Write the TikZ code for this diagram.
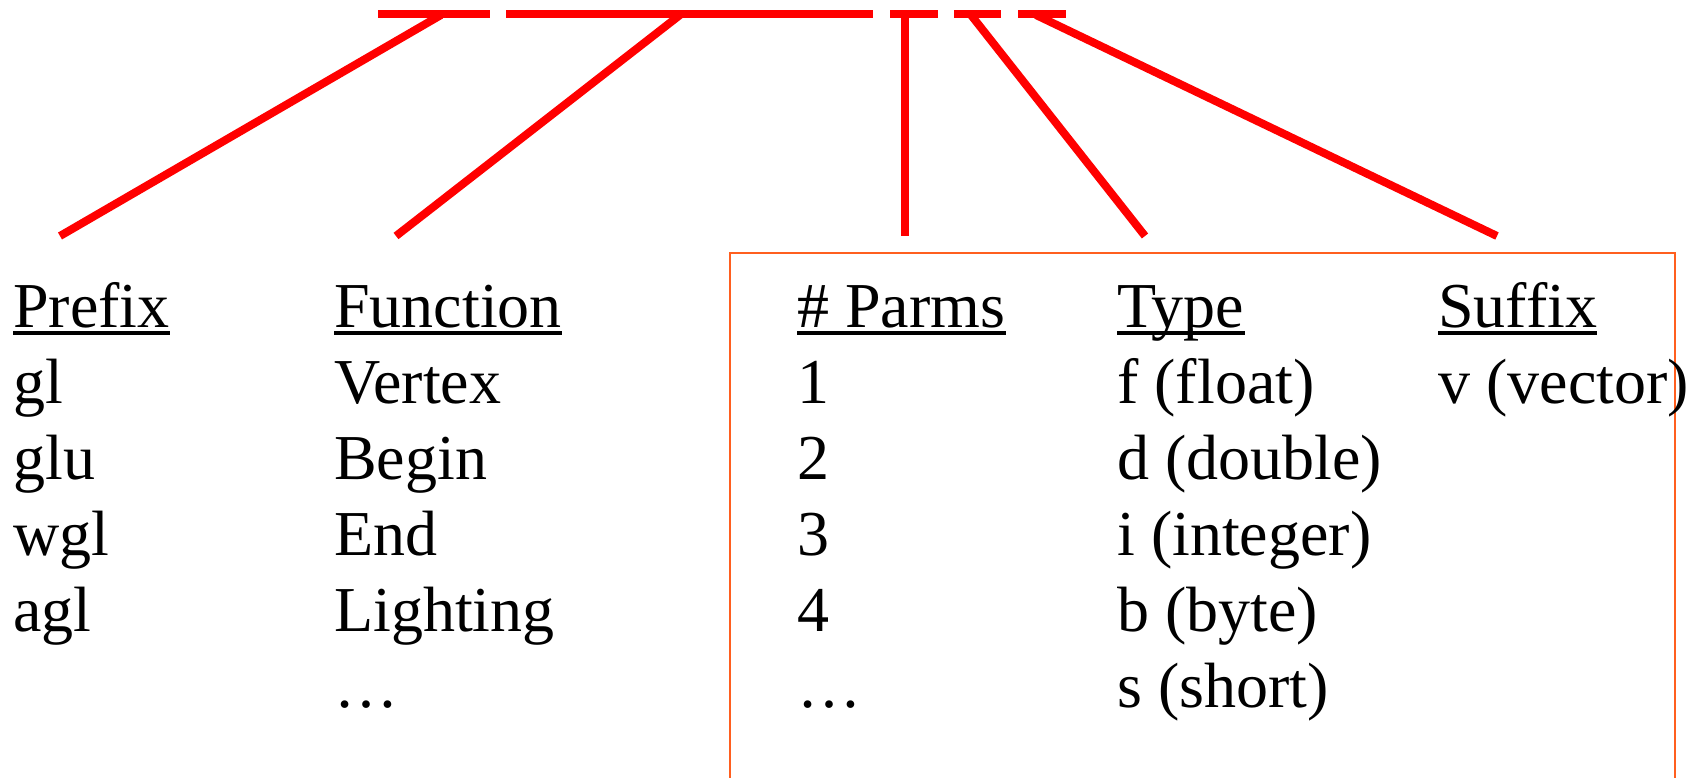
\documentclass[tikz,border=0pt]{standalone}
\usepackage{fontspec}
\setmainfont{Liberation Serif}
\definecolor{barred}{RGB}{255,0,0}
\definecolor{boxorange}{RGB}{255,95,31}
\begin{document}
\begin{tikzpicture}[x=0.75pt,y=-0.75pt,
  txt/.style={anchor=base west, inner sep=0pt, font=\fontsize{48}{57}\selectfont},
  barseg/.style={draw=barred, line width=6.5pt, line cap=butt},
  redline/.style={draw=barred, line width=6pt},
  ulstyle/.style={draw=black, line width=2.3pt},
  boxstyle/.style={draw=boxorange, line width=1.6pt}]
\useasboundingbox (0,0) rectangle (1704,778);
% top bar
\coordinate (s1a) at (378,14); \coordinate (s1b) at (490,14);
\coordinate (s2a) at (506,14); \coordinate (s2b) at (873,14);
\coordinate (s3a) at (890,14); \coordinate (s3b) at (938,14);
\coordinate (s4a) at (954,14); \coordinate (s4b) at (1001,14);
\coordinate (s5a) at (1018,14); \coordinate (s5b) at (1066,14);
\draw[barseg] (s1a) -- (s1b) (s2a) -- (s2b) (s3a) -- (s3b) (s4a) -- (s4b) (s5a) -- (s5b);
% connectors
\coordinate (t1) at (441,15); \coordinate (e1) at (60,236);
\coordinate (t2) at (680,15); \coordinate (e2) at (396,236);
\coordinate (t3) at (905,15); \coordinate (e3) at (905,236);
\coordinate (t4) at (971,15); \coordinate (e4) at (1145,236);
\coordinate (t5) at (1036,15); \coordinate (e5) at (1497,236);
\draw[redline] (t1) -- (e1);
\draw[redline] (t2) -- (e2);
\draw[redline] (t3) -- (e3);
\draw[redline] (t4) -- (e4);
\draw[redline] (t5) -- (e5);
% box (bottom runs off the picture)
\coordinate (bx1) at (730,778); \coordinate (bx2) at (730,253);
\coordinate (bx3) at (1675,253); \coordinate (bx4) at (1675,778);
\draw[boxstyle] (bx1) -- (bx2) -- (bx3) -- (bx4);
% headers
\node[txt] (hprefix) at (13,327) {Prefix};
\node[txt] (hfunc) at (334,327) {Function};
\node[txt] (hparms) at (797,327) {\# Parms};
\node[txt] (htype) at (1117,327) {Type};
\node[txt] (hsuffix) at (1438,327) {Suffix};
\foreach \n in {hprefix,hfunc,hparms,htype,hsuffix}
  \draw[ulstyle] ([yshift=-4.5pt]\n.base west) -- ([yshift=-4.5pt]\n.base east);
% prefix column
\node[txt] (p1) at (13,403) {gl};
\node[txt] (p2) at (13,479) {glu};
\node[txt] (p3) at (13,555) {wgl};
\node[txt] (p4) at (13,631) {agl};
% function column
\node[txt] (f1) at (334,403) {Vertex};
\node[txt] (f2) at (334,479) {Begin};
\node[txt] (f3) at (334,555) {End};
\node[txt] (f4) at (334,631) {Lighting};
\node[txt] (f5) at (334,707) {…};
% parms column
\node[txt] (n1) at (797,403) {1};
\node[txt] (n2) at (797,479) {2};
\node[txt] (n3) at (797,555) {3};
\node[txt] (n4) at (797,631) {4};
\node[txt] (n5) at (797,707) {…};
% type column
\node[txt] (y1) at (1117,403) {f (float)};
\node[txt] (y2) at (1117,479) {d (double)};
\node[txt] (y3) at (1117,555) {i (integer)};
\node[txt] (y4) at (1117,631) {b (byte)};
\node[txt] (y5) at (1117,707) {s (short)};
% suffix column
\node[txt] (x1) at (1438,403) {v (vector)};
\end{tikzpicture}
\end{document}
